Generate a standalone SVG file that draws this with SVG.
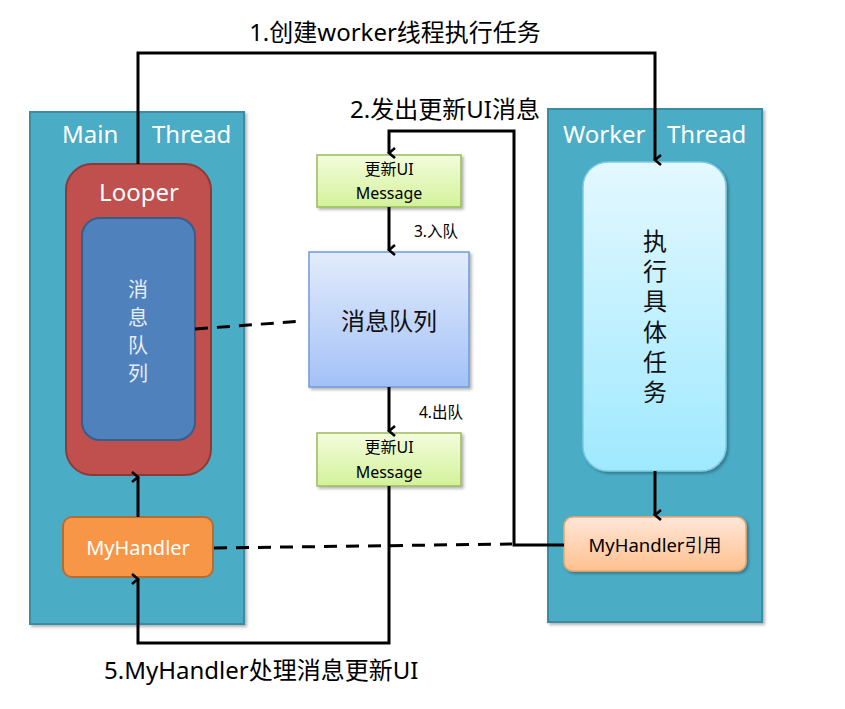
<svg xmlns="http://www.w3.org/2000/svg" width="845" height="709" viewBox="0 0 845 709">
<style>
text{font-family:"Noto Sans","Noto Sans CJK SC",sans-serif}
.panel{fill:#4BACC6;stroke:#3A8CA3;stroke-width:2}
.wt{fill:#fff;font-size:24px}
.conn{fill:none;stroke:#000;stroke-width:3}
.dash{fill:none;stroke:#000;stroke-width:3;stroke-dasharray:13 9}
.lbl{font-size:24px;fill:#000}
.sm{font-size:15.5px;fill:#000}
.msg{fill:url(#gGreen);stroke:#9BBB59;stroke-width:1.5}
.mt{font-size:16px;fill:#000;text-anchor:middle}
</style>
<defs>
<linearGradient id="gGreen" x1="0" y1="0" x2="0" y2="1"><stop offset="0" stop-color="#F3FCDC"/><stop offset="1" stop-color="#D3F29A"/></linearGradient>
<linearGradient id="gBlue" x1="0" y1="0" x2="0" y2="1"><stop offset="0" stop-color="#E3ECFC"/><stop offset="1" stop-color="#A3C1F7"/></linearGradient>
<linearGradient id="gCyan" x1="0" y1="0" x2="0" y2="1"><stop offset="0" stop-color="#E4F8FF"/><stop offset="1" stop-color="#9FE9FF"/></linearGradient>
<linearGradient id="gOrange" x1="0" y1="0" x2="0" y2="1"><stop offset="0" stop-color="#FFE6D8"/><stop offset="1" stop-color="#FFC18F"/></linearGradient>
<filter id="sh" x="-10%" y="-10%" width="130%" height="130%"><feDropShadow dx="2" dy="2" stdDeviation="1.5" flood-color="#000" flood-opacity="0.3"/></filter>
<marker id="arr" viewBox="0 0 12 12" refX="6" refY="10" markerWidth="12" markerHeight="12" markerUnits="userSpaceOnUse" orient="auto-start-reverse">
<path d="M1,4 L6,10 L11,4" fill="none" stroke="#000" stroke-width="2.6"/>
</marker>
</defs>

<g id="main-thread">
<rect class="panel" x="30" y="112" width="214" height="512" filter="url(#sh)"/>
<text class="wt" x="62" y="143">Main</text>
<text class="wt" x="152" y="143">Thread</text>
</g>
<g id="worker-thread">
<rect class="panel" x="548" y="109" width="214" height="513" filter="url(#sh)"/>
<text class="wt" x="563" y="143">Worker</text>
<text class="wt" x="667" y="143">Thread</text>
</g>

<g id="looper">
<rect x="66" y="164" width="145" height="311" rx="26" fill="#C0504D" stroke="#8C3A38" stroke-width="2"/>
<text class="wt" x="139" y="201" text-anchor="middle" font-size="22">Looper</text>
</g>
<g id="looper-queue">
<rect x="82" y="218" width="113" height="222" rx="18" fill="#4F81BD" stroke="#385D8A" stroke-width="2"/>
<g fill="#E6EDF7" font-size="20" text-anchor="middle">
<text x="138" y="297">消</text>
<text x="138" y="325">息</text>
<text x="138" y="353">队</text>
<text x="138" y="381">列</text>
</g>
</g>

<g id="myhandler">
<rect x="63" y="517" width="150" height="60" rx="9" fill="#F79646" stroke="#B66D31" stroke-width="2"/>
<text x="138" y="555" text-anchor="middle" fill="#fff" font-size="20">MyHandler</text>
</g>

<g id="task">
<rect x="583" y="162" width="143" height="309" rx="25" fill="url(#gCyan)" stroke="#7ACBE0" stroke-width="1.5" filter="url(#sh)"/>
<g font-size="24" text-anchor="middle" fill="#111">
<text x="655" y="250">执</text>
<text x="655" y="280">行</text>
<text x="655" y="310">具</text>
<text x="655" y="341">体</text>
<text x="655" y="371">任</text>
<text x="655" y="401">务</text>
</g>
</g>

<g id="myhandler-ref">
<rect x="564" y="517" width="182" height="54" rx="9" fill="url(#gOrange)" stroke="#F2A56A" stroke-width="1.5" filter="url(#sh)"/>
<text x="655" y="552" text-anchor="middle" font-size="18.5" fill="#000">MyHandler引用</text>
</g>

<g id="msg-top">
<rect class="msg" x="317" y="155" width="144" height="52" filter="url(#sh)"/>
<text class="mt" x="389" y="175">更新UI</text>
<text class="mt" x="389" y="199">Message</text>
</g>

<g id="queue">
<rect x="309" y="252" width="160" height="135" fill="url(#gBlue)" stroke="#6F9BDB" stroke-width="1.5" filter="url(#sh)"/>
<text x="389" y="330" text-anchor="middle" font-size="24" fill="#111">消息队列</text>
</g>

<g id="msg-bottom">
<rect class="msg" x="317" y="433" width="144" height="53" filter="url(#sh)"/>
<text class="mt" x="389" y="453">更新UI</text>
<text class="mt" x="389" y="478">Message</text>
</g>

<g id="connectors">
<path class="conn" d="M138,164 V53 H655 V160" marker-end="url(#arr)"/>
<path class="conn" d="M564,545 H514 V131 H389 V153" marker-end="url(#arr)"/>
<path class="conn" d="M389,207 V250" marker-end="url(#arr)"/>
<path class="conn" d="M389,387 V431" marker-end="url(#arr)"/>
<path class="conn" d="M389,486 V643 H138 V579" marker-end="url(#arr)"/>
<path class="conn" d="M138,517 V477" marker-end="url(#arr)"/>
<path class="conn" d="M655,471 V515" marker-end="url(#arr)"/>
<path class="dash" d="M195,329 L303,321"/>
<path class="dash" d="M214,548 L512,544"/>
<text class="lbl" x="395" y="41" text-anchor="middle">1.创建worker线程执行任务</text>
<text class="lbl" x="445" y="118" text-anchor="middle">2.发出更新UI消息</text>
<text class="sm" x="414" y="237">3.入队</text>
<text class="sm" x="419" y="418">4.出队</text>
<text class="lbl" x="104" y="679">5.MyHandler处理消息更新UI</text>
</g>
</svg>
